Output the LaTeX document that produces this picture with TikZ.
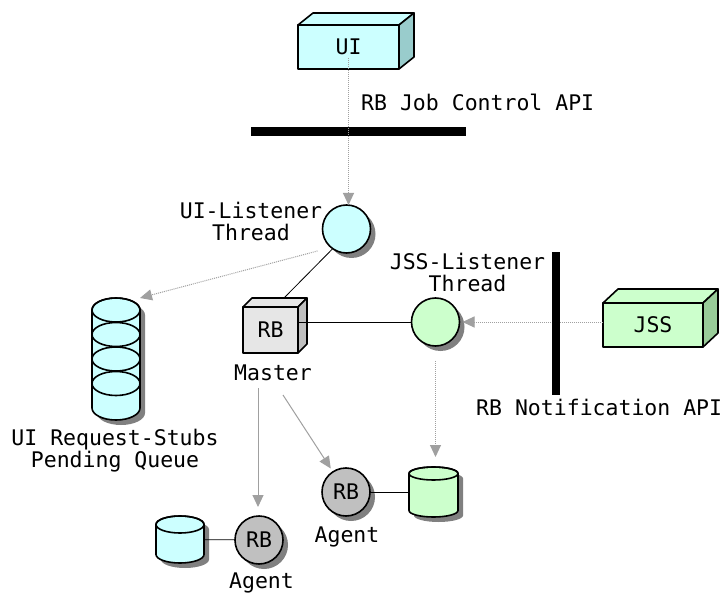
\documentclass[tikz,border=0pt]{standalone}
\usepackage{fontspec}
\setmonofont{DejaVu Sans Mono}
\usetikzlibrary{arrows.meta,shadows}
\definecolor{cyanfill}{HTML}{CCFFFF}
\definecolor{cyanside}{HTML}{99CCCC}
\definecolor{greenfill}{HTML}{CCFFCC}
\definecolor{greenside}{HTML}{99CC99}
\definecolor{boxgray}{HTML}{E6E6E6}
\definecolor{boxside}{HTML}{BFBFBF}
\definecolor{agentgray}{HTML}{C0C0C0}
\definecolor{shadowgray}{HTML}{808080}
\definecolor{linkgray}{HTML}{A0A0A0}
\newcommand\drawcyl[6]{%
  \begin{scope}[shift={(5,5)}]
    \fill[shadowgray] ({#1-#4},{#2+#5}) -- ({#1-#4},{#3-#5}) arc[start angle=180,end angle=0,x radius=#4,y radius=#5] -- ({#1+#4},{#2+#5}) arc[start angle=0,end angle=-180,x radius=#4,y radius=#5] -- cycle;
  \end{scope}
  \draw[outl,fill=#6] ({#1-#4},{#2+#5}) -- ({#1-#4},{#3-#5}) arc[start angle=180,end angle=0,x radius=#4,y radius=#5] -- ({#1+#4},{#2+#5}) arc[start angle=0,end angle=-180,x radius=#4,y radius=#5] -- cycle;
  \draw[outl] (#1,{#2+#5}) ellipse[x radius=#4,y radius=#5];
}
\begin{document}
\begin{tikzpicture}[x=1pt,y=-1pt,
  font=\ttfamily\fontsize{21.5}{22}\selectfont,
  outl/.style={draw=black, line width=1.6pt, line join=round},
  boxfront/.style={outl, inner sep=0pt, outer sep=0pt},
  thread/.style={circle, outl, minimum size=48pt, inner sep=0pt, outer sep=0pt,
    general shadow={fill=shadowgray, shadow xshift=5pt, shadow yshift=-5pt}},
  lbl/.style={inner sep=0pt, align=center},
  tipshape/.style={-{Triangle[length=12pt,width=11pt]}},
  dotarrow/.style={draw=linkgray, line width=1pt, dash pattern=on 1pt off 1pt, tipshape},
  grayarrow/.style={draw=linkgray, line width=1pt, tipshape},
  link/.style={draw=black, line width=0.8pt},
  apibar/.style={fill=black, inner sep=0pt, outer sep=0pt}
]
\fill[white] (0,0) rectangle (722,593);
\useasboundingbox (0,0) rectangle (722,593);

% API bar (horizontal)
\node[apibar, minimum width=215pt, minimum height=9pt] (jobapi) at (358.5,131.5) {};
\node[lbl, anchor=base west] (jobapilbl) at (361,111) {RB Job Control API};

% UI box
\node[boxfront, fill=cyanfill, minimum width=101pt, minimum height=44pt] (ui) at (348.5,47) {UI};
\draw[outl, fill=cyanfill] (ui.north west) -- ++(15,-12) -- ++(101,0) -- (ui.north east) -- cycle;
\draw[outl, fill=cyanside] (ui.north east) -- ++(15,-12) -- ++(0,44) -- (ui.south east) -- cycle;

% cylinders
\drawcyl{116}{298}{420}{24}{12}{cyanfill}
\draw[outl] (116,334.5) ellipse[x radius=24,y radius=12];
\draw[outl] (116,359) ellipse[x radius=24,y radius=12];
\draw[outl] (116,383.5) ellipse[x radius=24,y radius=12];
\node[inner sep=0pt, outer sep=0pt, minimum width=48pt, minimum height=122pt] (queue) at (116,359) {};
\drawcyl{433.5}{467}{517}{24.5}{6.5}{greenfill}
\node[inner sep=0pt, outer sep=0pt, minimum width=49pt, minimum height=50pt] (dbg) at (433.5,492) {};
\drawcyl{180}{516}{563}{24}{8.5}{cyanfill}
\node[inner sep=0pt, outer sep=0pt, minimum width=48pt, minimum height=47pt] (dbc) at (180,539.5) {};

% threads and agents
\node[thread, fill=cyanfill] (uil) at (346.5,229) {};
\node[thread, fill=greenfill] (jssl) at (435.5,322) {};
\node[thread, fill=agentgray] (ag1) at (346,492) {RB};
\node[thread, fill=agentgray] (ag2) at (259,540) {RB};

% master box
\node[boxfront, fill=boxgray, minimum width=55pt, minimum height=46pt] (master) at (270.5,330) {RB};
\draw[outl, fill=boxgray] (master.north west) -- ++(9,-9) -- ++(55,0) -- (master.north east) -- cycle;
\draw[outl, fill=boxside] (master.north east) -- ++(9,-9) -- ++(0,46) -- (master.south east) -- cycle;

% JSS box
\node[boxfront, fill=greenfill, minimum width=100pt, minimum height=44pt] (jss) at (653,325) {JSS};
\draw[outl, fill=greenfill] (jss.north west) -- ++(15,-14) -- ++(100,0) -- (jss.north east) -- cycle;
\draw[outl, fill=greenside] (jss.north east) -- ++(15,-14) -- ++(0,44) -- (jss.south east) -- cycle;

% labels (base = baseline of last line)
\node[lbl, anchor=base] (uillbl) at (251,241) {UI-Listener\\Thread};
\node[lbl, anchor=base] (jssllbl) at (467.5,292) {JSS-Listener\\Thread};
\node[lbl, anchor=base] (masterlbl) at (273,380) {Master};
\node[lbl, anchor=base] (queuelbl) at (115,467) {UI Request-Stubs\\Pending Queue};
\node[lbl, anchor=base west] (notiflbl) at (476,415) {RB Notification API};
\node[lbl, anchor=base] (ag1lbl) at (347,542) {Agent};
\node[lbl, anchor=base] (ag2lbl) at (261.5,588) {Agent};

% connectors
\coordinate (m1) at (283,395);
\coordinate (m2) at (258,388);
\draw[dotarrow, shorten <=11pt] (ui.center) -- (ui.center |- uil.north);
\draw[dotarrow, shorten <=14pt] (uil.230) -- (queue.north east);
\draw[link] (uil.235) -- ([shift={(13.5,-9)}]master.north);
\draw[link] (jssl.west) -- (jssl.west -| master.east);
\draw[dotarrow, shorten >=3pt] (jss.west |- jssl.east) -- (jssl.east);
\draw[dotarrow, shorten <=15pt, shorten >=10pt] (jssl.south) -- (jssl.south |- dbg.north);
\draw[grayarrow, shorten >=4pt] (m1) -- (ag1);
\draw[grayarrow, shorten >=9pt] (m2) -- (m2 |- ag2.north);
\draw[link] (ag1) -- (dbg);
\draw[link] (dbc) -- (ag2);

% API bar (vertical)
\node[apibar, minimum width=8pt, minimum height=143pt] (notifapi) at (556,323.5) {};
\end{tikzpicture}
\end{document}
